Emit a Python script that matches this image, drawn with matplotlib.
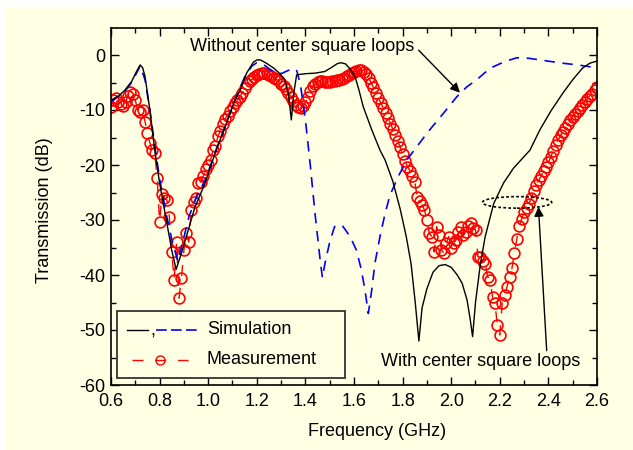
import numpy as np
import matplotlib
matplotlib.use('Agg')
import matplotlib.pyplot as plt
from matplotlib.patches import Ellipse, Rectangle
from matplotlib.lines import Line2D

plt.rcParams['font.family'] = ['Liberation Sans', 'DejaVu Sans']
plt.rcParams['lines.scale_dashes'] = False

# ---------------- data ----------------
# Measurement (with center square loops), 0.60 ... 2.60 GHz, step 0.01 GHz
meas_db = [
    -9.4, -8.1, -7.9, -8.6, -8.9, -9.2, -8.6, -7.4, -6.7, -7.0,   # 0.60-0.69
    -8.2, -10.0, -10.4, -10.0, -12.1, -14.2, -16.0, -17.3, -17.8, -22.4,  # 0.70-0.79
    -30.3, -25.2, -26.0, -26.4, -29.4, -35.8, -40.9, -34.0, -44.2, -40.5,  # 0.80-0.89
    -35.5, -32.4, -34.0, -28.2, -26.8, -26.0, -23.3, -23.0, -22.0, -20.8,  # 0.90-0.99
    -20.0, -19.0, -17.3, -16.6, -14.8, -13.8, -12.6, -11.6, -11.0, -10.2,  # 1.00-1.09
    -9.4, -8.8, -8.2, -7.6, -6.9, -6.0, -5.3, -4.8, -4.4, -4.0,           # 1.10-1.19
    -3.6, -3.4, -3.3, -3.3, -3.4, -3.6, -3.8, -4.1, -4.4, -4.8,           # 1.20-1.29
    -5.2, -5.7, -6.2, -6.9, -7.6, -8.3, -9.0, -9.4, -9.6, -9.3,           # 1.30-1.39
    -8.6, -7.6, -6.5, -5.7, -5.2, -4.9, -4.8, -4.8, -4.9, -4.9,           # 1.40-1.49
    -4.9, -4.8, -4.7, -4.6, -4.5, -4.3, -4.1, -3.9, -3.6, -3.3,           # 1.50-1.59
    -3.1, -2.9, -2.8, -2.8, -3.0, -3.5, -4.2, -5.0, -5.9, -6.9,           # 1.60-1.69
    -7.8, -8.7, -9.6, -10.5, -11.4, -12.5, -13.5, -14.5, -15.6, -16.7,    # 1.70-1.79
    -18.0, -19.3, -20.3, -21.0, -22.0, -23.0, -25.8, -26.5, -27.2, -28.2, # 1.80-1.89
    -30.0, -32.4, -33.0, -35.8, -31.2, -32.7, -35.5, -36.0, -34.2, -33.0, # 1.90-1.99
    -35.0, -34.2, -33.6, -32.1, -31.2, -32.8, -32.1, -31.0, -30.6, -31.5, # 2.00-2.09
    -31.8, -36.7, -36.7, -37.5, -38.0, -40.3, -40.9, -44.0, -45.1, -49.1, # 2.10-2.19
    -50.9, -45.1, -43.6, -42.1, -40.3, -38.8, -36.0, -33.5, -31.0, -29.8, # 2.20-2.29
    -28.6, -27.8, -27.0, -26.0, -24.7, -23.6, -22.8, -22.0, -21.0, -20.4, # 2.30-2.39
    -19.5, -18.5, -17.4, -16.4, -15.5, -14.6, -14.0, -13.3, -12.6, -11.9, # 2.40-2.49
    -11.2, -10.7, -10.2, -9.7, -9.1, -8.5, -8.0, -7.4, -7.0, -6.4,        # 2.50-2.59
    -5.8,                                                                  # 2.60
]
meas_freq = np.linspace(0.60, 2.60, len(meas_db))

# Simulation with center square loops (black solid)
sim_with_freq = [0.600, 0.630, 0.657, 0.685, 0.705, 0.720, 0.730, 0.740, 0.760, 0.780,
                 0.800, 0.830, 0.850, 0.868, 0.890, 0.918, 0.946, 0.987, 1.028, 1.070,
                 1.110, 1.130, 1.158, 1.186, 1.200, 1.215, 1.240, 1.270, 1.295, 1.315,
                 1.330, 1.342, 1.352, 1.364, 1.400, 1.440, 1.480, 1.510, 1.530, 1.545,
                 1.565, 1.585, 1.604, 1.620, 1.638, 1.673, 1.707, 1.728, 1.760, 1.790,
                 1.815, 1.835, 1.852, 1.867, 1.880, 1.900, 1.925, 1.950, 1.975, 2.000,
                 2.025, 2.045, 2.065, 2.078, 2.088, 2.100, 2.120, 2.140, 2.175, 2.215,
                 2.256, 2.324, 2.365, 2.410, 2.460, 2.500, 2.540, 2.570, 2.600]
sim_with_db = [-8.2, -7.5, -6.4, -4.8, -3.0, -1.8, -2.3, -3.9, -10.0, -17.3,
               -23.3, -30.6, -35.5, -39.0, -36.0, -31.8, -27.6, -23.3, -17.9, -13.0,
               -8.2, -6.5, -3.3, -1.3, -0.9, -0.9, -1.5, -2.4, -3.4, -4.5,
               -7.0, -11.8, -7.0, -3.6, -3.4, -3.3, -3.0, -2.2, -1.6, -1.4,
               -1.6, -2.6, -3.9, -6.3, -9.4, -13.6, -17.3, -19.1, -23.0, -28.0,
               -33.0, -38.0, -45.0, -52.0, -46.0, -42.5, -39.5, -38.3, -38.1, -38.6,
               -40.0, -41.5, -44.5, -48.0, -51.2, -45.0, -38.0, -33.0, -27.0, -23.3,
               -20.6, -17.3, -13.6, -10.2, -6.9, -4.5, -2.4, -1.5, -1.1]

# Simulation without center square loops (blue dashed)
sim_without_freq = [0.600, 0.657, 0.685, 0.720, 0.740, 0.760, 0.780, 0.800, 0.830, 0.850,
                    0.875, 0.890, 0.920, 0.950, 0.990, 1.030, 1.070, 1.110, 1.150, 1.180,
                    1.200, 1.230, 1.260, 1.300, 1.330, 1.350, 1.365, 1.380, 1.400, 1.420,
                    1.440, 1.460, 1.470, 1.480, 1.500, 1.520, 1.550, 1.584, 1.610, 1.630,
                    1.645, 1.659, 1.673, 1.686, 1.707, 1.728, 1.748, 1.782, 1.817, 1.858,
                    1.906, 1.968, 2.023, 2.064, 2.105, 2.160, 2.220, 2.270, 2.320, 2.365,
                    2.460, 2.520, 2.580]
sim_without_db = [-8.5, -6.6, -5.0, -2.0, -4.5, -10.0, -16.5, -22.5, -29.5, -33.5,
                  -37.5, -35.0, -29.5, -26.0, -22.5, -17.5, -13.0, -8.2, -4.0, -2.0,
                  -1.4, -1.8, -2.8, -3.4, -2.8, -2.4, -2.9, -5.5, -11.8, -20.0,
                  -29.0, -37.0, -40.5, -38.0, -34.0, -31.2, -30.9, -33.0, -35.5, -39.0,
                  -42.7, -47.0, -42.7, -37.9, -33.0, -28.8, -25.5, -22.1, -19.1, -16.7,
                  -13.9, -10.6, -7.6, -5.8, -4.5, -2.4, -1.2, -0.5, -0.6, -0.9,
                  -1.5, -1.8, -2.2]

xticks = [0.6, 0.8, 1.0, 1.2, 1.4, 1.6, 1.8, 2.0, 2.2, 2.4, 2.6]
yticks = [0, -10, -20, -30, -40, -50, -60]

# ---------------- style ----------------
BG = '#FFFFE3'
RED = '#FF0000'
BLUE = '#0000FF'
FS = 13

fig = plt.figure(figsize=(6.33, 4.5), dpi=100, facecolor='white')
fig.patches.append(Rectangle((5 / 633, 0), 1, (450 - 7) / 450, transform=fig.transFigure,
                             facecolor=BG, edgecolor='none', zorder=-10))
ax = fig.add_axes([111 / 633, (450 - 385) / 450, 486 / 633, 357.5 / 450])
ax.set_facecolor(BG)

# measurement
ax.plot(meas_freq, meas_db, color=RED, lw=1.0, dashes=(7.9, 8.5),
        marker='o', ms=7.8, mfc='none', mec=RED, mew=1.2, zorder=2)
# simulations
ax.plot(sim_without_freq, sim_without_db, color=BLUE, lw=1.2, dashes=(7.5, 5.5), zorder=3)
ax.plot(sim_with_freq, sim_with_db, color='black', lw=1.0, zorder=4)

ax.set_xlim(0.6, 2.6)
ax.set_ylim(-60, 5)
ax.set_xticks(xticks)
ax.set_xticklabels([f'{t:.1f}' for t in xticks])
ax.set_xticks(np.arange(0.7, 2.6, 0.2), minor=True)
ax.set_yticks(yticks)
ax.set_yticklabels([f'{t:d}' for t in yticks])
ax.set_yticks(np.arange(-55, 5, 10), minor=True)
ax.tick_params(which='both', direction='in', top=True, right=True, labelsize=FS, width=1.0)
ax.tick_params(which='major', length=6)
ax.tick_params(which='minor', length=3.5)
ax.tick_params(axis='x', pad=6)
ax.tick_params(axis='y', pad=4)
for s in ax.spines.values():
    s.set_linewidth(1.2)

ax.set_xlabel('Frequency (GHz)', fontsize=FS)
ax.set_ylabel('Transmission (dB)', fontsize=FS)
ax.xaxis.set_label_coords(0.548, -0.105)
ax.yaxis.set_label_coords(-0.12, 0.49)

# annotations
ax.annotate('Without center square loops', xy=(2.036, -6.85), xytext=(1.386, 1.5),
            fontsize=FS, ha='center', va='center',
            arrowprops=dict(arrowstyle='-|>', color='black', lw=1.0,
                            mutation_scale=14, shrinkA=0, shrinkB=0,
                            patchA=None, relpos=(1.02, 0.3)))
ax.annotate('With center square loops', xy=(2.359, -27.6), xytext=(2.123, -55.8),
            fontsize=FS, ha='center', va='center',
            arrowprops=dict(arrowstyle='-|>', color='black', lw=1.0,
                            mutation_scale=14, shrinkA=0, shrinkB=0,
                            relpos=(0.83, 1.0)))
ax.add_patch(Ellipse((2.271, -26.8), 0.285, 2.1, fill=False, edgecolor='black',
                     lw=1.2, linestyle=(0, (2.0, 1.6)), zorder=5))

# legend (drawn in axes fraction)
T = ax.transAxes
def px(x):
    return (x - 111) / 486
def py(y):
    return (385 - y) / 357.5
ax.add_patch(Rectangle((px(117), py(378)), px(345) - px(117), py(311) - py(378),
                       transform=T, facecolor=BG, edgecolor='#333333', lw=1.3, zorder=10))
ax.add_line(Line2D([px(127), px(148)], [py(330), py(330)], transform=T,
                   color='black', lw=1.0, zorder=11))
ax.text(px(150), py(331), ',', transform=T, fontsize=FS, ha='left', va='center', zorder=11)
ax.add_line(Line2D([px(156), px(199)], [py(330), py(330)], transform=T,
                   color=BLUE, lw=1.2, dashes=(7.7, 3.1), zorder=11))
ax.text(px(207), py(330), 'Simulation', transform=T, fontsize=FS, ha='left', va='center', zorder=11)
ax.add_line(Line2D([px(132), px(188)], [py(360), py(360)], transform=T,
                   color=RED, lw=1.0, dashes=(7.9, 8.5), zorder=11))
ax.add_line(Line2D([px(160)], [py(360)], transform=T, color=RED, marker='o', ms=6.5,
                   mfc='none', mec=RED, mew=1.0, zorder=12))
ax.text(px(207), py(360), 'Measurement', transform=T, fontsize=FS, ha='left', va='center', zorder=11)

fig.savefig('out.png', dpi=100, facecolor='white')
